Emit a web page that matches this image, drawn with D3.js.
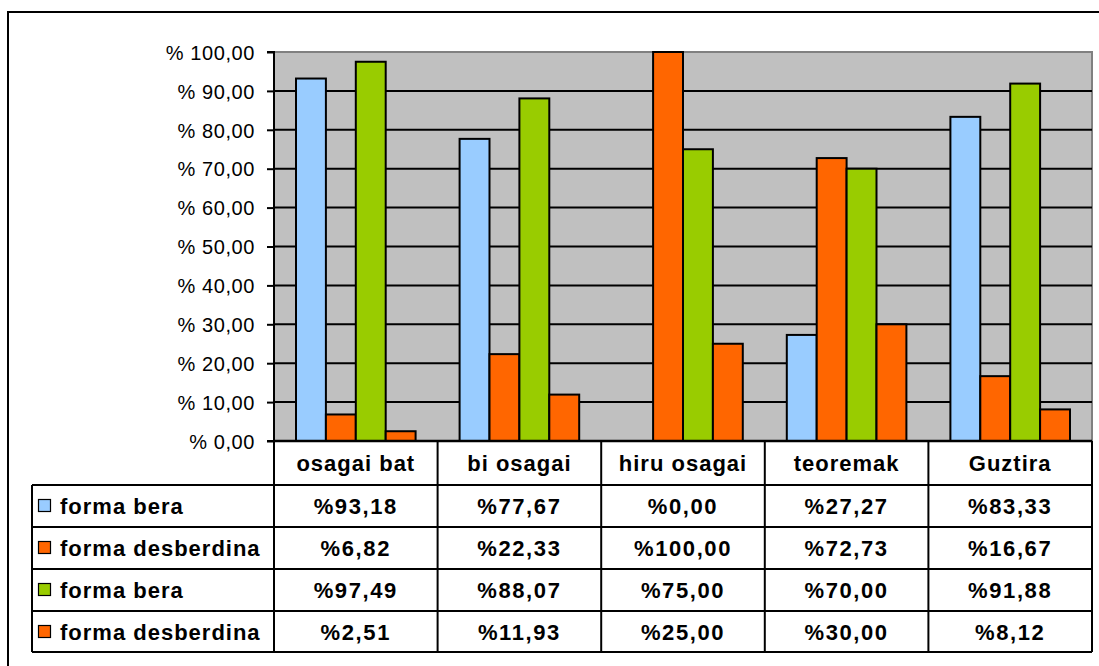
<!DOCTYPE html>
<html><head><meta charset="utf-8">
<script src="https://cdn.jsdelivr.net/npm/d3@7"></script>
<style>body{margin:0;background:#fff}svg{display:block}</style>
</head><body><svg id="c" width="1099" height="666"></svg>
<script>
const categories = ["osagai bat","bi osagai","hiru osagai","teoremak","Guztira"];
const seriesNames = ["forma bera","forma desberdina","forma bera","forma desberdina"];
const seriesColors = ["#99CCFF","#FF6600","#99CC00","#FF6600"];
const s1 = [93.18,77.67,0.00,27.27,83.33];
const s2 = [6.82,22.33,100.00,72.73,16.67];
const s3 = [97.49,88.07,75.00,70.00,91.88];
const s4 = [2.51,11.93,25.00,30.00,8.12];
const seriesValues = [s1,s2,s3,s4];
const yTicks = [0,10,20,30,40,50,60,70,80,90,100];

const svg = d3.select("#c");
const L=274, R=1092, T=52, B=441;
const font = "'Liberation Sans', Arial, sans-serif";

// outer frame
svg.append("rect").attr("x",8).attr("y",12).attr("width",1200).attr("height",800)
  .attr("fill","none").attr("stroke","#000").attr("stroke-width",2);

const x = d3.scaleBand().domain(categories).range([L,R]).padding(0);
const inner = d3.scaleBand().domain(d3.range(4)).range([22, x.bandwidth()-22]).padding(0);
const y = d3.scaleLinear().domain([0,100]).range([B,T]);

// plot bg
svg.append("rect").attr("x",L).attr("y",T).attr("width",R-L).attr("height",B-T).attr("fill","#C0C0C0");
svg.append("path").attr("d",`M${L},${T}H${R}V${B}`).attr("fill","none").attr("stroke","#808080").attr("stroke-width",2);
// gridlines
svg.append("g").selectAll("line").data(yTicks.filter(d=>d>0&&d<100)).join("line")
  .attr("x1",L).attr("x2",R).attr("y1",d=>y(d)).attr("y2",d=>y(d)).attr("stroke","#000").attr("stroke-width",2);

// bars
seriesValues.forEach((vals,si)=>{
  svg.append("g").selectAll("rect").data(vals).join("rect")
    .attr("x",(d,i)=>x(categories[i])+inner(si))
    .attr("y",d=>y(d))
    .attr("width",inner.bandwidth())
    .attr("height",d=>B-y(d))
    .attr("fill",seriesColors[si]).attr("stroke","#000").attr("stroke-width",2);
});

// y axis
const yAxis = d3.axisLeft(y).tickValues(yTicks).tickSize(7).tickPadding(12)
  .tickFormat(d=>"% "+d3.format(".2f")(d).replace(".",","));
const ga = svg.append("g").attr("transform",`translate(${L},0)`).call(yAxis);
ga.attr("font-size",null).attr("font-family",null);
ga.select(".domain").attr("stroke","#000").attr("stroke-width",2).attr("d",`M-7,${T}H0V${B}H-7`);
ga.selectAll(".tick line").attr("stroke","#000").attr("stroke-width",2);
ga.selectAll("text").attr("font-family",font).attr("font-size",20).attr("letter-spacing",0.6).attr("fill","#000").attr("dy","0.36em");

// data table
const tL=32, rowTop=485, rowH=42, tB=rowTop+4*rowH-1;
const tg = svg.append("g");
const rowY = i=>rowTop + i*rowH;
tg.append("line").attr("x1",L).attr("x2",R).attr("y1",B).attr("y2",B).attr("stroke","#000").attr("stroke-width",2.5);
for(let i=0;i<=4;i++){
  const yy = i<4?rowY(i):tB;
  tg.append("line").attr("x1",tL).attr("x2",R).attr("y1",yy).attr("y2",yy).attr("stroke","#000").attr("stroke-width",2);
}
const vx = categories.map(c=>x(c)).concat([R]);
vx.forEach(v=>tg.append("line").attr("x1",v).attr("x2",v).attr("y1",B).attr("y2",tB).attr("stroke","#000").attr("stroke-width",2));
tg.append("line").attr("x1",tL).attr("x2",tL).attr("y1",rowTop).attr("y2",tB).attr("stroke","#000").attr("stroke-width",2);

const tfs = 22, tls = 1.0;
tg.selectAll("text.h").data(categories).join("text").attr("class","h")
  .attr("x",d=>x(d)+x.bandwidth()/2).attr("y",(B+rowTop)/2+8)
  .attr("text-anchor","middle").attr("font-family",font).attr("font-weight","bold").attr("font-size",tfs)
  .attr("letter-spacing",tls).text(d=>d);

seriesValues.forEach((vals,si)=>{
  const cy = rowY(si)+rowH/2;
  tg.append("rect").attr("x",38.5).attr("y",cy-6.5).attr("width",12).attr("height",12)
    .attr("fill",seriesColors[si]).attr("stroke","#000").attr("stroke-width",1.2);
  tg.append("text").attr("x",60).attr("y",cy+8).attr("font-family",font).attr("font-weight","bold")
    .attr("font-size",tfs).attr("letter-spacing",tls).text(seriesNames[si]);
  tg.selectAll(null).data(vals).join("text")
    .attr("x",(d,i)=>x(categories[i])+x.bandwidth()/2).attr("y",cy+8)
    .attr("text-anchor","middle").attr("font-family",font).attr("font-weight","bold").attr("font-size",tfs)
    .attr("letter-spacing",1.6)
    .text(d=>"%"+d3.format(".2f")(d).replace(".",","));
});
</script></body></html>
